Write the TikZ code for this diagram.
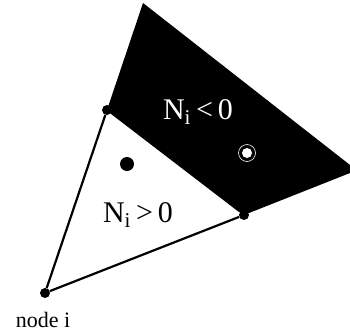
\documentclass[tikz,border=0pt]{standalone}
\usepackage{fontspec}
\setmainfont{Liberation Serif}
\begin{document}
\begin{tikzpicture}[x=1pt,y=-1pt,
  edge/.style={line width=2.2pt},
  vtx/.style={circle,fill=black,inner sep=0pt,minimum size=10pt},
  lbl/.style={inner sep=0pt,font=\fontsize{30}{34}\selectfont}]
\useasboundingbox (0,0) rectangle (350,335);
% shaded region (N_i < 0)
\coordinate (apex) at (143,3);
\coordinate (r1) at (350,165);
\coordinate (r2) at (350,173);
\fill[black] (107,110) -- (apex) -- (r1) -- (r2) -- (244,215) -- cycle;
% triangle vertices
\node[vtx] (i) at (45,293) {};
\node[vtx] (b) at (107,110) {};
\node[vtx] (c) at (244,215) {};
\draw[edge] (i) -- (b);
\draw[edge] (i) -- (c);
\draw[line width=1.4pt] (b) -- (c);
% points
\node[circle,fill=black,inner sep=0pt,minimum size=14pt] (p1) at (127,164) {};
\node[circle,draw=white,line width=0.6pt,inner sep=0pt,minimum size=17pt] (ring) at (247,153) {};
\node[circle,fill=white,inner sep=0pt,minimum size=10pt] (p2) at (247,153) {};
% labels
\node[lbl] (pos) at (138,215) {N\textsubscript{i}\,>\,0};
\node[lbl,text=white] (neg) at (198,112) {N\textsubscript{i}\,<\,0};
\node[inner sep=0pt,font=\fontsize{22}{26}\selectfont] (ni) at (43,320) {node i};
\end{tikzpicture}
\end{document}
